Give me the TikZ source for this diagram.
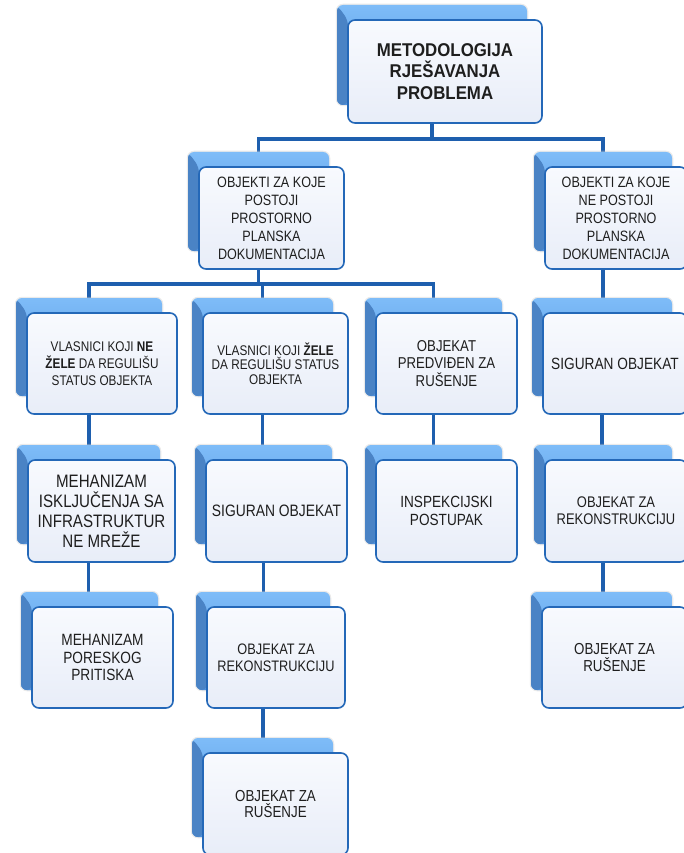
\documentclass[tikz,border=0pt]{standalone}
\usepackage{fontspec}
\newfontfamily\nf[FakeStretch=0.84]{Liberation Sans}
\newfontfamily\tf[FakeStretch=0.91]{Liberation Sans}
\definecolor{conncol}{HTML}{1E5FAE}
\definecolor{framecol}{HTML}{2468B8}
\definecolor{fronttop}{HTML}{F8FAFE}
\definecolor{frontbot}{HTML}{E8EDF8}
\definecolor{backtop}{HTML}{7EBCF8}
\definecolor{backbot}{HTML}{5091DC}
\definecolor{backleft}{HTML}{4A83C5}
\definecolor{txtcol}{HTML}{1E1E1E}
\pgfdeclarelayer{background}
\pgfsetlayers{background,main}
\tikzset{
  conn/.style={draw=conncol, line width=3.2pt},
  backbox/.style={rectangle, rounded corners=6pt, inner sep=0pt,
    top color=backtop, bottom color=backbot,
    preaction={draw=black!20, line width=2.5pt, opacity=0.4},
    path picture={\fill[backleft]
      (path picture bounding box.north west)
      -- ([xshift=11pt,yshift=-15pt]path picture bounding box.north west)
      -- ([xshift=11pt]path picture bounding box.south west)
      -- (path picture bounding box.south west) -- cycle;}},
  frontbox/.style={rectangle, rounded corners=7pt, inner sep=2pt,
    top color=fronttop, bottom color=frontbot, draw=framecol,
    line width=1.6pt, align=center, text=txtcol}
}
% name, x0, y0, x1, y1, font, text
\newcommand\entbox[7]{%
  \node[backbox, minimum width={#4-#2-4}, minimum height={#5-#3-3}]
    (#1b) at ({(#2+#4)/2-13},{(#3+#5)/2-16.5}) {};
  \node[frontbox, font={#6}, minimum width={#4-#2}, minimum height={#5-#3}]
    (#1) at ({(#2+#4)/2},{(#3+#5)/2}) {#7};
}
\newcommand\fs[2]{\nf\fontsize{#1}{#2}\selectfont}
\begin{document}
\begin{tikzpicture}[x=1pt,y=-1pt]
\useasboundingbox (0,0) rectangle (684,853);
\clip (0,0) rectangle (684,853);
\begin{pgfonlayer}{background}
\fill[white] (0,0) rectangle (684,853);
\end{pgfonlayer}

\entbox{T}{348}{20}{542}{123}{\tf\bfseries\fontsize{18.5}{21.7}\selectfont}{METODOLOGIJA\\RJEŠAVANJA\\PROBLEMA}

\entbox{La}{199}{167}{344}{269}{\fs{15}{18}}{OBJEKTI ZA KOJE\\POSTOJI\\PROSTORNO\\PLANSKA\\DOKUMENTACIJA}
\entbox{Lb}{545}{167}{687}{269}{\fs{15}{18}}{OBJEKTI ZA KOJE\\NE POSTOJI\\PROSTORNO\\PLANSKA\\DOKUMENTACIJA}

\entbox{Ma}{27}{313}{177}{414}{\fs{14}{17}}{VLASNICI KOJI \textbf{NE}\\\textbf{ŽELE} DA REGULIŠU\\STATUS OBJEKTA}
\entbox{Mb}{203}{313}{348}{414}{\fs{14}{14.5}}{VLASNICI KOJI \textbf{ŽELE}\\DA REGULIŠU STATUS\\OBJEKTA}
\entbox{Mc}{376}{313}{517}{414}{\fs{15.7}{17.5}}{OBJEKAT\\PREDVIĐEN ZA\\RUŠENJE}
\entbox{Md}{543}{313}{687}{414}{\fs{16.3}{18}}{SIGURAN OBJEKAT}

\entbox{Na}{28}{460}{175}{562}{\fs{18}{20}}{MEHANIZAM\\ISKLJUČENJA SA\\INFRASTRUKTUR\\NE MREŽE}
\entbox{Nb}{206}{460}{347}{562}{\fs{16.5}{18}}{SIGURAN OBJEKAT}
\entbox{Nc}{376}{460}{517}{562}{\fs{16.2}{18}}{INSPEKCIJSKI\\POSTUPAK}
\entbox{Nd}{545}{460}{687}{562}{\fs{15.4}{16.7}}{OBJEKAT ZA\\REKONSTRUKCIJU}

\entbox{Pa}{32}{607}{173}{708}{\fs{16.3}{17.5}}{MEHANIZAM\\PORESKOG\\PRITISKA}
\entbox{Pb}{207}{607}{345}{708}{\fs{15.2}{16.7}}{OBJEKAT ZA\\REKONSTRUKCIJU}
\entbox{Pd}{542}{607}{687}{708}{\fs{15.9}{16.7}}{OBJEKAT ZA\\RUŠENJE}

\entbox{Qb}{203}{753}{348}{855}{\fs{15.9}{16.7}}{OBJEKAT ZA\\RUŠENJE}

\coordinate (busA) at (0,139);
\coordinate (busB) at (0,284);

\begin{pgfonlayer}{background}
\draw[conn] (Tb.south) -- (Tb.south |- busA) -| (Lab.north);
\draw[conn] (Tb.south |- busA) -| (Lbb.north);
\draw[conn] (Lab.south) -- (Lab.south |- busB) -| (Mab.north);
\draw[conn] (Lab.south |- busB) -| (Mcb.north);
\draw[conn] (Mbb.north) -- (Mbb.north |- busB);
\draw[conn] (Lbb.south) -- (Lbb.south |- Mdb.north);
\draw[conn] (Mab.south) -- (Mab.south |- Nab.north);
\draw[conn] (Nab.south) -- (Nab.south |- Pab.north);
\draw[conn] (Mbb.south) -- (Mbb.south |- Nbb.north);
\draw[conn] (Nbb.south) -- (Nbb.south |- Pbb.north);
\draw[conn] (Pbb.south) -- (Pbb.south |- Qbb.north);
\draw[conn] (Mcb.south) -- (Mcb.south |- Ncb.north);
\draw[conn] (Mdb.south) -- (Mdb.south |- Ndb.north);
\draw[conn] (Ndb.south) -- (Ndb.south |- Pdb.north);
\end{pgfonlayer}
\end{tikzpicture}
\end{document}
